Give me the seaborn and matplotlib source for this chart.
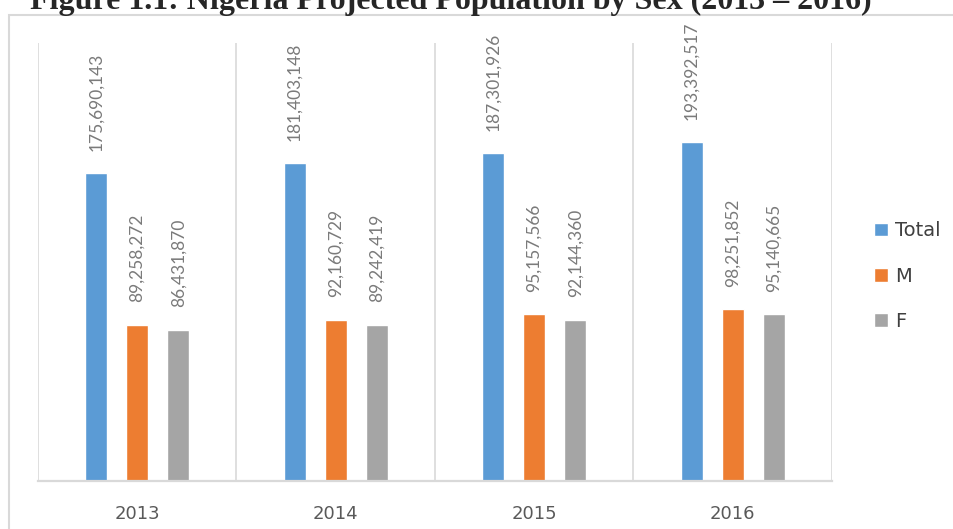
import matplotlib
matplotlib.use("Agg")
import pandas as pd
import matplotlib.pyplot as plt
import seaborn as sns

# data
years = ["2013", "2014", "2015", "2016"]
total = [175690143, 181403148, 187301926, 193392517]
male = [89258272, 92160729, 95157566, 98251852]
female = [86431870, 89242419, 92144360, 95140665]
series = ["Total", "M", "F"]
colors = ["#5B9BD5", "#ED7D31", "#A5A5A5"]

df = pd.DataFrame({
    "year": years * 3,
    "sex": ["Total"] * 4 + ["M"] * 4 + ["F"] * 4,
    "value": total + male + female,
})

sns.set_theme(style="white")
plt.rcParams["font.family"] = ["DejaVu Sans"]

fig = plt.figure(figsize=(9.54, 5.29), dpi=100)
ax = fig.add_axes([38/954, 1-481/529, (832-38)/954, (481-43)/529])

sns.barplot(data=df, x="year", y="value", hue="sex", hue_order=series,
            palette=colors, width=0.62, gap=0.46, saturation=1, ax=ax,
            errorbar=None)

for cont in ax.containers:
    ax.bar_label(cont, fmt="{:,.0f}", rotation=90, padding=16,
                 color="#7a7a7a", fontsize=12.5, family="Lato")

ax.set_ylim(0, 250e6)
ax.set_xlim(-0.5, 3.5)
ax.set_yticks([])
ax.set_xlabel("")
ax.set_ylabel("")
for x in [-0.5, 0.5, 1.5, 2.5, 3.5]:
    ax.axvline(x, color="#D9D9D9", lw=1.2, zorder=0)
for s in ["top", "left", "right"]:
    ax.spines[s].set_visible(False)
ax.spines["bottom"].set_color("#D9D9D9")
ax.spines["bottom"].set_linewidth(1.6)
ax.tick_params(axis="x", length=0, pad=17, labelsize=13, labelcolor="#595959")

h, l = ax.get_legend_handles_labels()
ax.legend(h, l, loc="center left", bbox_to_anchor=(874/954, 1-276/529),
          bbox_transform=fig.transFigure, frameon=False, fontsize=14,
          borderpad=0, borderaxespad=0,
          handlelength=0.7, handleheight=0.7, handletextpad=0.4,
          labelspacing=1.35, labelcolor="#404040")

# outer chart border and caption
fig.add_artist(plt.Rectangle((9/954, -0.02), 1.0, 1.02 - 15/529,
                             transform=fig.transFigure, fill=False,
                             ec="#D9D9D9", lw=1.5))
fig.text(451/954, 1-9.5/529, "Figure 1.1: Nigeria Projected Population by Sex (2013 \u2013 2016)",
         ha="center", va="baseline", fontsize=23, fontweight="bold",
         family="Liberation Serif")

fig.savefig("out.png", dpi=100)
